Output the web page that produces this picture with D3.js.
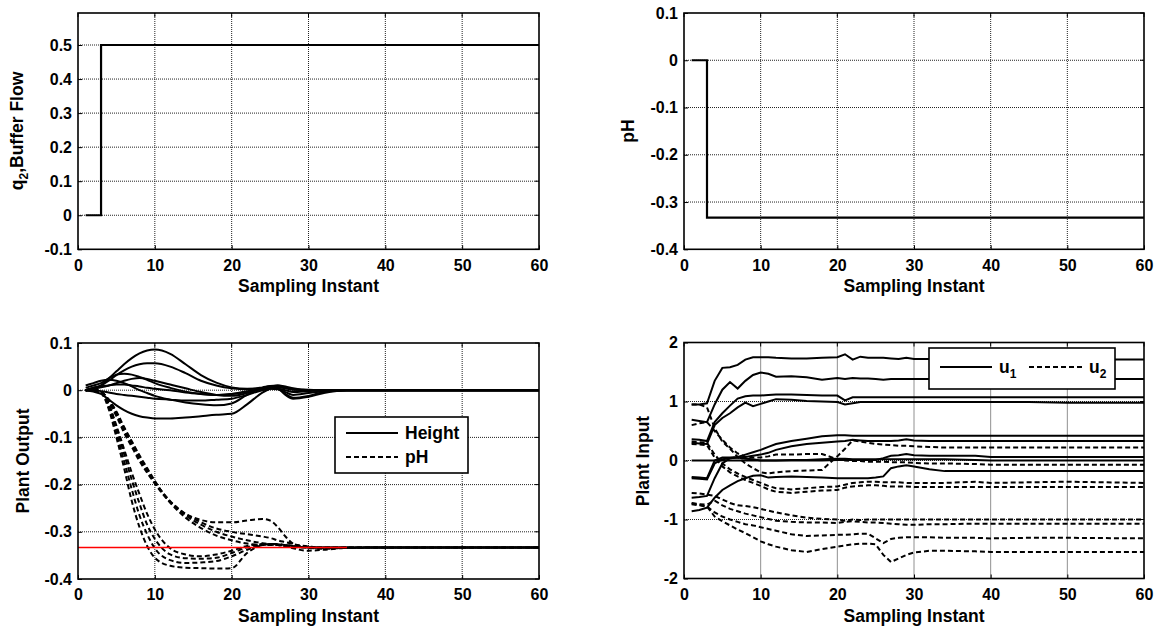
<!DOCTYPE html>
<html><head><meta charset="utf-8">
<script src="https://cdn.jsdelivr.net/npm/d3@7"></script>
<style>
html,body{margin:0;padding:0;background:#fff;}
svg{display:block;}
text{font-family:"Liberation Sans",Arial,sans-serif;font-weight:bold;fill:#000;}
</style></head>
<body>
<svg id="chart" width="1156" height="630"></svg>
<script>
// ---------------- DATA ----------------
const xTicks = [0,10,20,30,40,50,60];
const yTicksQ2 = [-0.1,0,0.1,0.2,0.3,0.4,0.5];
const yTicksPH = [-0.4,-0.3,-0.2,-0.1,0,0.1];
const yTicksOut = [-0.4,-0.3,-0.2,-0.1,0,0.1];
const yTicksIn = [-2,-1,0,1,2];
const yTickLabelsQ2 = ["-0.1","0","0.1","0.2","0.3","0.4","0.5"];
const yTickLabelsPH = ["-0.4","-0.3","-0.2","-0.1","0","0.1"];
const yTickLabelsIn = ["-2","-1","0","1","2"];

// top-left: buffer flow step
const stepX = [1,3,3,60];
const q2Values = [0,0,0.5,0.5];
// top-right: pH setpoint step
const phRefValues = [0,0,-0.333,-0.333];

// bottom-left: plant outputs
const xOut = [1,2,3,4,5,6,7,8,9,10,12,14,16,18,20,22,24,25,26,27,28,30,32,35,40,60];
const heightSeries = [
  [0,0.005,0.01,0.025,0.04,0.055,0.068,0.078,0.084,0.086,0.077,0.055,0.032,0.016,0.006,0.003,0.004,0.006,0.007,0.005,0.002,0.001,0,0,0,0],
  [0,0.004,0.01,0.02,0.032,0.042,0.05,0.055,0.057,0.057,0.05,0.036,0.02,0.01,0.004,0.002,0.006,0.009,0.01,0.006,0.002,0,0,0,0,0],
  [0.005,0.01,0.015,0.025,0.033,0.035,0.033,0.028,0.022,0.015,0.005,-0.003,-0.008,-0.01,-0.008,-0.004,0.004,0.007,0.01,0.008,0.004,0,0,0,0,0],
  [0,0.003,0.006,0.01,0.015,0.02,0.024,0.026,0.024,0.02,0.012,0.004,-0.004,-0.01,-0.012,-0.006,0.004,0.008,0.005,-0.008,-0.016,-0.012,-0.004,0,0,0],
  [0.01,0.015,0.02,0.022,0.02,0.015,0.008,0,-0.006,-0.012,-0.02,-0.026,-0.03,-0.032,-0.028,-0.01,0.005,0.008,0.004,-0.01,-0.018,-0.014,-0.006,0,0,0],
  [0,0,-0.002,-0.005,-0.008,-0.01,-0.012,-0.014,-0.016,-0.018,-0.02,-0.022,-0.022,-0.02,-0.018,-0.01,0,0.003,0.002,-0.004,-0.01,-0.006,-0.002,0,0,0],
  [0,-0.003,-0.008,-0.02,-0.032,-0.042,-0.05,-0.055,-0.058,-0.06,-0.06,-0.058,-0.055,-0.052,-0.05,-0.03,-0.005,0.003,0.006,0.004,0.001,0,0,0,0,0],
  [0,0.005,0.008,0.01,0.012,0.012,0.01,0.008,0.005,0.003,0,-0.005,-0.008,-0.01,-0.008,-0.002,0.002,0.004,0.003,0,-0.004,-0.002,0,0,0,0]
];
const phSeries = [
  [0,0,-0.003,-0.025,-0.055,-0.09,-0.12,-0.15,-0.175,-0.198,-0.238,-0.262,-0.275,-0.28,-0.28,-0.276,-0.273,-0.276,-0.29,-0.31,-0.325,-0.333,-0.334,-0.334,-0.333,-0.333],
  [0,0,-0.003,-0.022,-0.05,-0.085,-0.115,-0.145,-0.172,-0.196,-0.235,-0.262,-0.28,-0.293,-0.3,-0.305,-0.31,-0.313,-0.318,-0.322,-0.326,-0.331,-0.334,-0.334,-0.333,-0.333],
  [0,0,-0.004,-0.02,-0.048,-0.08,-0.11,-0.14,-0.168,-0.194,-0.236,-0.265,-0.285,-0.3,-0.31,-0.318,-0.324,-0.326,-0.327,-0.328,-0.33,-0.334,-0.336,-0.334,-0.333,-0.333],
  [0,0,-0.004,-0.02,-0.045,-0.078,-0.108,-0.138,-0.165,-0.192,-0.238,-0.27,-0.292,-0.308,-0.318,-0.325,-0.328,-0.328,-0.328,-0.33,-0.335,-0.34,-0.338,-0.334,-0.333,-0.333],
  [0,0.002,-0.005,-0.04,-0.1,-0.165,-0.235,-0.29,-0.33,-0.355,-0.372,-0.376,-0.377,-0.378,-0.377,-0.345,-0.328,-0.326,-0.326,-0.328,-0.33,-0.333,-0.333,-0.333,-0.333,-0.333],
  [0,0.002,-0.005,-0.035,-0.09,-0.15,-0.21,-0.265,-0.305,-0.335,-0.36,-0.366,-0.365,-0.362,-0.352,-0.338,-0.328,-0.326,-0.327,-0.329,-0.331,-0.333,-0.333,-0.333,-0.333,-0.333],
  [0,0.002,-0.006,-0.03,-0.08,-0.135,-0.19,-0.24,-0.285,-0.315,-0.348,-0.356,-0.357,-0.355,-0.345,-0.333,-0.327,-0.327,-0.328,-0.33,-0.332,-0.333,-0.333,-0.333,-0.333,-0.333],
  [0,0.001,-0.006,-0.03,-0.075,-0.125,-0.175,-0.22,-0.262,-0.295,-0.335,-0.348,-0.352,-0.348,-0.34,-0.33,-0.326,-0.327,-0.328,-0.33,-0.332,-0.333,-0.333,-0.333,-0.333,-0.333]
];
const refLineX = [0,35];
const refLineY = [-0.333,-0.333];

// bottom-right: plant inputs
const xIn = [1,2,3,4,5,6,7,8,9,10,11,12,14,16,18,20,21,22,23,24,25,26,27,28,29,30,32,34,38,40,45,50,60];
const u1Series = [
  [0.95,0.95,0.97,1.35,1.57,1.58,1.62,1.71,1.75,1.75,1.75,1.74,1.73,1.73,1.74,1.75,1.8,1.71,1.76,1.74,1.74,1.74,1.73,1.72,1.74,1.72,1.72,1.72,1.72,1.72,1.71,1.71,1.71],
  [0.69,0.67,0.65,0.95,1.2,1.33,1.22,1.35,1.45,1.49,1.47,1.42,1.43,1.41,1.37,1.4,1.38,1.4,1.39,1.39,1.38,1.37,1.38,1.38,1.38,1.38,1.38,1.38,1.38,1.38,1.38,1.38,1.38],
  [0.36,0.35,0.33,0.65,0.8,0.93,1.05,1.09,1.1,1.1,1.11,1.12,1.12,1.11,1.1,1.1,1.02,1.07,1.07,1.07,1.07,1.07,1.07,1.07,1.07,1.07,1.07,1.07,1.07,1.07,1.07,1.07,1.07],
  [0.3,0.29,0.28,0.6,0.72,0.8,0.9,0.98,0.92,0.96,1.0,1.04,1.03,1.01,1.0,0.99,0.95,0.97,0.99,0.99,0.99,0.99,0.99,0.99,0.99,0.99,0.99,0.99,0.99,0.99,0.99,0.98,0.98],
  [-0.28,-0.29,-0.3,0,0.05,0.05,0.06,0.1,0.14,0.18,0.23,0.28,0.33,0.37,0.41,0.43,0.43,0.42,0.42,0.42,0.42,0.42,0.42,0.42,0.42,0.42,0.42,0.42,0.42,0.42,0.42,0.42,0.42],
  [-0.3,-0.31,-0.32,-0.05,0.02,0.04,0.05,0.06,0.08,0.1,0.13,0.18,0.24,0.28,0.3,0.32,0.33,0.35,0.34,0.33,0.33,0.33,0.33,0.34,0.36,0.34,0.33,0.33,0.33,0.33,0.33,0.33,0.33],
  [0,0,0,0,0,0,0,0,0,0,0,0,0,0,0,0.01,0.01,0.01,0.01,0.01,0.01,0.04,0.08,0.09,0.11,0.09,0.08,0.08,0.08,0.06,0.06,0.06,0.06],
  [-0.63,-0.62,-0.6,-0.3,-0.05,0.04,0.05,0.03,0.02,0,0,0,0.01,0.01,0.02,0.03,0.03,0.02,0.02,0.02,0.02,0.02,0.02,0.02,0.02,0.02,0.02,0.02,0.01,0,0,0,0],
  [-0.86,-0.84,-0.8,-0.63,-0.5,-0.42,-0.35,-0.3,-0.26,-0.25,-0.29,-0.28,-0.27,-0.28,-0.29,-0.3,-0.3,-0.3,-0.3,-0.3,-0.29,-0.27,-0.13,-0.1,-0.08,-0.1,-0.15,-0.18,-0.18,-0.18,-0.18,-0.18,-0.18]
];
const u2Series = [
  [0.95,0.95,0.9,0.55,0.32,0.2,0.06,-0.05,-0.13,-0.2,-0.22,-0.2,-0.18,-0.17,-0.16,0.07,0.2,0.34,0.32,0.3,0.28,0.27,0.26,0.25,0.25,0.24,0.23,0.22,0.22,0.22,0.22,0.22,0.22],
  [0.6,0.63,0.65,0.5,0.35,0.22,0.12,0.06,0.05,0.05,0.07,0.1,0.1,0.11,0.11,0.02,0,-0.01,-0.01,-0.02,-0.02,-0.02,-0.03,-0.03,-0.03,-0.04,-0.05,-0.05,-0.06,-0.07,-0.07,-0.07,-0.07],
  [0.32,0.31,0.3,0.1,-0.05,-0.15,-0.22,-0.28,-0.33,-0.38,-0.43,-0.47,-0.49,-0.47,-0.45,-0.44,-0.41,-0.38,-0.37,-0.36,-0.36,-0.37,-0.37,-0.37,-0.38,-0.38,-0.38,-0.38,-0.36,-0.38,-0.37,-0.36,-0.38],
  [0.28,0.27,0.26,0.05,-0.1,-0.2,-0.27,-0.33,-0.38,-0.43,-0.49,-0.53,-0.55,-0.53,-0.51,-0.5,-0.46,-0.44,-0.43,-0.42,-0.42,-0.43,-0.44,-0.44,-0.44,-0.45,-0.45,-0.45,-0.45,-0.45,-0.45,-0.45,-0.45],
  [-0.55,-0.56,-0.58,-0.6,-0.66,-0.72,-0.76,-0.77,-0.79,-0.82,-0.85,-0.88,-0.93,-0.97,-0.99,-1.0,-1.02,-1.0,-1.01,-1.0,-1.0,-1.0,-1.0,-1.0,-1.0,-1.0,-1.0,-1.0,-1.0,-1.0,-1.0,-1.0,-1.0],
  [-0.72,-0.74,-0.75,-0.68,-0.76,-0.82,-0.86,-0.9,-0.93,-0.96,-0.99,-1.02,-1.04,-1.05,-1.05,-1.06,-1.04,-1.03,-1.04,-1.05,-1.05,-1.06,-1.07,-1.08,-1.09,-1.09,-1.08,-1.08,-1.07,-1.07,-1.07,-1.07,-1.07],
  [-0.73,-0.75,-0.78,-0.88,-0.95,-1.0,-1.04,-1.08,-1.1,-1.13,-1.16,-1.19,-1.25,-1.28,-1.27,-1.26,-1.26,-1.25,-1.24,-1.24,-1.32,-1.4,-1.33,-1.31,-1.3,-1.3,-1.3,-1.31,-1.31,-1.32,-1.31,-1.31,-1.32],
  [-0.74,-0.76,-0.78,-0.95,-1.03,-1.1,-1.17,-1.23,-1.3,-1.37,-1.42,-1.46,-1.52,-1.55,-1.5,-1.46,-1.44,-1.42,-1.41,-1.41,-1.42,-1.6,-1.72,-1.66,-1.6,-1.56,-1.53,-1.53,-1.54,-1.55,-1.55,-1.55,-1.55]
];

// ---------------- DRAW ----------------
const svg = d3.select("#chart");
const FS = 16;    // tick labels
const FT = 17.5;  // titles

function panel(cfg){
  const x = d3.scaleLinear().domain([0,60]).range([cfg.l, cfg.r]);
  const y = d3.scaleLinear().domain(cfg.ydom).range([cfg.b, cfg.t]);
  const g = svg.append("g");
  // grid
  g.append("g").selectAll("line").data(xTicks.slice(1,-1)).join("line")
    .attr("x1", d=>x(d)).attr("x2", d=>x(d)).attr("y1", cfg.t).attr("y2", cfg.b)
    .attr("stroke","#222").attr("stroke-width",1).attr("stroke-dasharray","1,1");
  g.append("g").selectAll("line").data(cfg.grid).join("line")
    .attr("x1", cfg.l).attr("x2", cfg.r).attr("y1", d=>y(d)).attr("y2", d=>y(d))
    .attr("stroke","#222").attr("stroke-width",1).attr("stroke-dasharray","1,1");
  // axes
  const ax = g.append("g").attr("transform",`translate(0,${cfg.b})`)
    .call(d3.axisBottom(x).tickValues(xTicks).tickFormat(d3.format("d")).tickSize(-4).tickPadding(10));
  const ay = g.append("g").attr("transform",`translate(${cfg.l},0)`)
    .call(d3.axisLeft(y).tickValues(cfg.yticks).tickFormat((d,i)=>cfg.ylabels[i]).tickSize(-4).tickPadding(6));
  [ax,ay].forEach(a=>{
    a.select(".domain").remove();
    a.selectAll("text").attr("font-size",FS).attr("font-family","Liberation Sans, Arial, sans-serif").attr("font-weight","bold").attr("fill","#000");
    a.selectAll("line").attr("stroke","#000");
  });
  // right/top inward ticks
  g.append("g").selectAll("line").data(xTicks).join("line")
    .attr("x1",d=>x(d)).attr("x2",d=>x(d)).attr("y1",cfg.t).attr("y2",cfg.t+4).attr("stroke","#000");
  g.append("g").selectAll("line").data(cfg.yticks).join("line")
    .attr("x1",cfg.r).attr("x2",cfg.r-4).attr("y1",d=>y(d)).attr("y2",d=>y(d)).attr("stroke","#000");
  // x title
  g.append("text").attr("x",(cfg.l+cfg.r)/2).attr("y",cfg.b+43).attr("text-anchor","middle")
    .attr("font-size",FT).text("Sampling Instant");
  return {x,y,g};
}

function box(p,cfg){
  p.g.append("rect").attr("x",cfg.l).attr("y",cfg.t).attr("width",cfg.r-cfg.l).attr("height",cfg.b-cfg.t)
    .attr("fill","none").attr("stroke","#000").attr("stroke-width",1.6);
}

const lineLin = (p,xs)=>d3.line().x((d,i)=>p.x(xs[i])).y(d=>p.y(d));
const lineSm = (p,xs)=>d3.line().x((d,i)=>p.x(xs[i])).y(d=>p.y(d)).curve(d3.curveMonotoneX);

// Top-left
const cTL = {l:78,r:539,t:13,b:249.3,ydom:[-0.1,0.594],yticks:yTicksQ2,ylabels:yTickLabelsQ2,grid:yTicksQ2.slice(1)};
const pTL = panel(cTL);
pTL.g.append("path").datum(q2Values).attr("d",lineLin(pTL,stepX)).attr("fill","none").attr("stroke","#000").attr("stroke-width",2.2);
box(pTL,cTL);
const t1 = svg.append("text").attr("transform","translate(23,131) rotate(-90)").attr("text-anchor","middle").attr("font-size",FT);
t1.append("tspan").text("q");
t1.append("tspan").attr("font-size",12).attr("dy",5).text("2");
t1.append("tspan").attr("dy",-5).text(",Buffer Flow");

// Top-right
const cTR = {l:684,r:1144,t:13,b:249.3,ydom:[-0.4,0.1],yticks:yTicksPH,ylabels:yTickLabelsPH,grid:yTicksPH.slice(1,-1)};
const pTR = panel(cTR);
pTR.g.append("path").datum(phRefValues).attr("d",lineLin(pTR,stepX)).attr("fill","none").attr("stroke","#000").attr("stroke-width",2.2);
box(pTR,cTR);
svg.append("text").attr("transform","translate(634,131) rotate(-90)").attr("text-anchor","middle").attr("font-size",FT).text("pH");

// Bottom-left
const cBL = {l:78,r:539,t:343,b:579,ydom:[-0.4,0.1],yticks:yTicksOut,ylabels:yTickLabelsPH,grid:yTicksOut.slice(1,-1)};
const pBL = panel(cBL);
heightSeries.forEach(s=>pBL.g.append("path").datum(s).attr("d",lineSm(pBL,xOut)).attr("fill","none").attr("stroke","#000").attr("stroke-width",2));
phSeries.forEach(s=>pBL.g.append("path").datum(s).attr("d",lineSm(pBL,xOut)).attr("fill","none").attr("stroke","#000").attr("stroke-width",2).attr("stroke-dasharray","5,3"));
pBL.g.append("path").datum(refLineY).attr("d",lineLin(pBL,refLineX)).attr("fill","none").attr("stroke","#ff0000").attr("stroke-width",1.5);
box(pBL,cBL);
svg.append("text").attr("transform","translate(28.5,461) rotate(-90)").attr("text-anchor","middle").attr("font-size",FT).text("Plant Output");
// legend BL
const lg1 = svg.append("g");
lg1.append("rect").attr("x",335).attr("y",417).attr("width",133).attr("height",56).attr("fill","#fff").attr("stroke","#000").attr("stroke-width",1.6);
lg1.append("line").attr("x1",346).attr("x2",398).attr("y1",433).attr("y2",433).attr("stroke","#000").attr("stroke-width",2);
lg1.append("line").attr("x1",346).attr("x2",398).attr("y1",457).attr("y2",457).attr("stroke","#000").attr("stroke-width",2).attr("stroke-dasharray","5,3");
lg1.append("text").attr("x",405).attr("y",439).attr("font-size",FT).text("Height");
lg1.append("text").attr("x",405).attr("y",463).attr("font-size",FT).text("pH");

// Bottom-right
const cBR = {l:684,r:1144,t:342.5,b:578.5,ydom:[-2,2],yticks:yTicksIn,ylabels:yTickLabelsIn,grid:[-1,0,1]};
const pBR = panel(cBR);
u1Series.forEach(s=>pBR.g.append("path").datum(s).attr("d",lineLin(pBR,xIn)).attr("fill","none").attr("stroke","#000").attr("stroke-width",2));
u2Series.forEach(s=>pBR.g.append("path").datum(s).attr("d",lineLin(pBR,xIn)).attr("fill","none").attr("stroke","#000").attr("stroke-width",2).attr("stroke-dasharray","5,3"));
box(pBR,cBR);
svg.append("text").attr("transform","translate(648.5,461) rotate(-90)").attr("text-anchor","middle").attr("font-size",FT).text("Plant Input");
// legend BR
const lg2 = svg.append("g");
lg2.append("rect").attr("x",929).attr("y",348).attr("width",186).attr("height",41).attr("fill","#fff").attr("stroke","#000").attr("stroke-width",1.6);
lg2.append("line").attr("x1",940).attr("x2",992).attr("y1",367).attr("y2",367).attr("stroke","#000").attr("stroke-width",2);
lg2.append("line").attr("x1",1029).attr("x2",1084).attr("y1",367).attr("y2",367).attr("stroke","#000").attr("stroke-width",2).attr("stroke-dasharray","5,3");
const u1t = lg2.append("text").attr("x",999).attr("y",373).attr("font-size",FT);
u1t.append("tspan").text("u"); u1t.append("tspan").attr("font-size",12).attr("dy",5).text("1");
const u2t = lg2.append("text").attr("x",1089).attr("y",373).attr("font-size",FT);
u2t.append("tspan").text("u"); u2t.append("tspan").attr("font-size",12).attr("dy",5).text("2");
</script>
</body></html>
